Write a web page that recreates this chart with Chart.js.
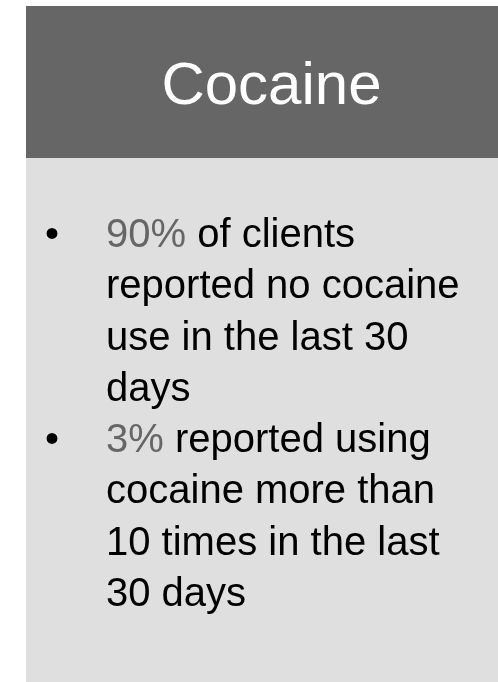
<!DOCTYPE html>
<html>
<head>
    <title>Cocaine</title>
    <style>
        body {
            margin: 0;
            width: 498px;
            height: 682px;
            background: #ffffff;
            overflow: hidden;
            position: relative;
            font-family: "Liberation Sans", Arial, sans-serif;
        }
        #panel {
            position: absolute;
            left: 26px;
            top: 6px;
        }
        .title {
            position: absolute;
            left: 26px;
            width: 491px;
            top: 54px;
            text-align: center;
            font-size: 60px;
            line-height: 60px;
            color: #ffffff;
        }
        .bullets {
            position: absolute;
            left: 0;
            top: 208px;
            margin: 0;
            padding: 0;
            list-style: none;
            font-size: 40px;
            line-height: 51.3px;
            color: #000000;
        }
        .bullets li {
            position: relative;
            padding-left: 106px;
            white-space: nowrap;
        }
        .bullets li::before {
            content: "\2022";
            position: absolute;
            left: 45px;
        }
        .pct {
            color: #666666;
        }
    </style>
</head>
<body>
    <canvas id="panel" width="472" height="676"></canvas>
    <div class="title" id="title"></div>
    <ul class="bullets" id="bullets"></ul>

    <script src="https://cdn.jsdelivr.net/npm/chart.js"></script>
    <script>
        const titleText = 'Cocaine';
        // each bullet: highlighted percentage, then the rest of the sentence line by line
        const percents = ['90%', '3%'];
        const bulletLines = [
            [' of clients', 'reported no cocaine', 'use in the last 30', 'days'],
            [' reported using', 'cocaine more than', '10 times in the last', '30 days']
        ];

        const headerColor = '#666666';
        const bodyColor = '#dfdfdf';
        const headerHeight = 152;

        // Chart.js paints the panel: dark header band and light body
        const panelPlugin = {
            id: 'panelBackground',
            beforeDraw(chart) {
                const ctx = chart.ctx;
                ctx.save();
                ctx.fillStyle = bodyColor;
                ctx.fillRect(0, 0, chart.width, chart.height);
                ctx.fillStyle = headerColor;
                ctx.fillRect(0, 0, chart.width, headerHeight);
                ctx.restore();
            }
        };

        new Chart(document.getElementById('panel'), {
            type: 'bar',
            data: { labels: [], datasets: [] },
            options: {
                responsive: false,
                animation: false,
                events: [],
                plugins: {
                    legend: { display: false },
                    tooltip: { enabled: false },
                    title: { display: false }
                },
                scales: {
                    x: { display: false },
                    y: { display: false }
                }
            },
            plugins: [panelPlugin]
        });

        document.getElementById('title').textContent = titleText;

        const list = document.getElementById('bullets');
        percents.forEach((pct, i) => {
            const li = document.createElement('li');
            const span = document.createElement('span');
            span.className = 'pct';
            span.textContent = pct;
            li.appendChild(span);
            bulletLines[i].forEach((line, j) => {
                if (j > 0) li.appendChild(document.createElement('br'));
                li.appendChild(document.createTextNode(line));
            });
            list.appendChild(li);
        });
    </script>
</body>
</html>
